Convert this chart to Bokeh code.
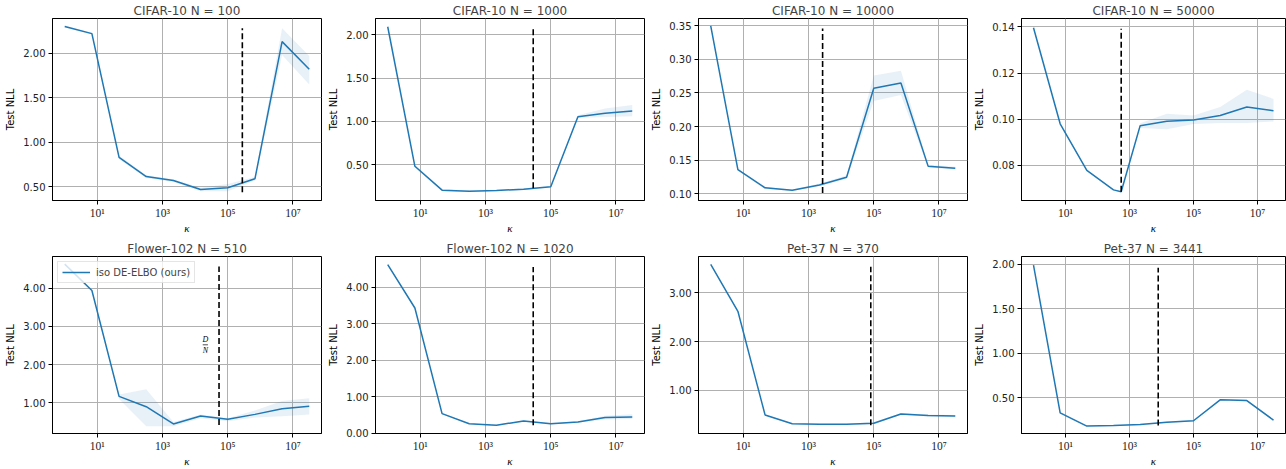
from bokeh.plotting import figure
from bokeh.layouts import column, row
from bokeh.models import Range1d, FixedTicker, NumeralTickFormatter, Legend, LegendItem
from bokeh.embed import file_html
from bokeh.resources import INLINE
from bokeh.core.properties import value

# ---------------- data ----------------
kappa = [1, 6.81, 46.4, 316, 2154, 14678, 1e5, 6.81e5, 4.64e6, 3.16e7]
kappa_p4 = [1, 6.81, 46.4, 316, 550, 2154, 14678, 1e5, 6.81e5, 4.64e6, 3.16e7]

titles = ["CIFAR-10 N = 100", "CIFAR-10 N = 1000", "CIFAR-10 N = 10000", "CIFAR-10 N = 50000",
          "Flower-102 N = 510", "Flower-102 N = 1020", "Pet-37 N = 370", "Pet-37 N = 3441"]

nll_c100 = [2.30, 2.22, 0.83, 0.615, 0.57, 0.47, 0.49, 0.59, 2.13, 1.82]
lo_c100 = [2.29, 2.21, 0.81, 0.60, 0.555, 0.45, 0.45, 0.57, 1.98, 1.65]
hi_c100 = [2.31, 2.23, 0.85, 0.63, 0.585, 0.49, 0.53, 0.61, 2.28, 1.97]

nll_c1000 = [2.09, 0.484, 0.209, 0.197, 0.205, 0.22, 0.248, 1.055, 1.095, 1.12]
lo_c1000 = [2.08, 0.47, 0.20, 0.19, 0.20, 0.21, 0.24, 1.04, 1.05, 1.06]
hi_c1000 = [2.10, 0.50, 0.22, 0.205, 0.21, 0.23, 0.255, 1.07, 1.15, 1.19]

nll_c10000 = [0.350, 0.1357, 0.1087, 0.105, 0.113, 0.1245, 0.257, 0.265, 0.141, 0.138]
lo_c10000 = [0.349, 0.134, 0.107, 0.104, 0.111, 0.122, 0.238, 0.247, 0.139, 0.136]
hi_c10000 = [0.351, 0.137, 0.110, 0.106, 0.115, 0.127, 0.276, 0.283, 0.143, 0.140]

nll_c50000 = [0.1396, 0.098, 0.0778, 0.0694, 0.0686, 0.0972, 0.0991, 0.0997, 0.1016, 0.1053, 0.1037]
lo_c50000 = [0.1394, 0.0978, 0.0776, 0.0692, 0.0684, 0.0962, 0.0957, 0.0979, 0.0984, 0.0984, 0.0990]
hi_c50000 = [0.1398, 0.0982, 0.0780, 0.0696, 0.0688, 0.0982, 0.1024, 0.1016, 0.1053, 0.1128, 0.1088]

nll_f510 = [4.63, 3.94, 1.17, 0.90, 0.45, 0.66, 0.57, 0.70, 0.85, 0.91]
lo_f510 = [4.62, 3.93, 1.10, 0.39, 0.39, 0.60, 0.52, 0.62, 0.65, 0.70]
hi_f510 = [4.64, 3.95, 1.22, 1.36, 0.50, 0.70, 0.60, 0.80, 1.05, 1.12]

nll_f1020 = [4.62, 3.43, 0.54, 0.26, 0.22, 0.34, 0.26, 0.31, 0.43, 0.45]
lo_f1020 = [4.61, 3.42, 0.52, 0.25, 0.21, 0.32, 0.25, 0.29, 0.38, 0.39]
hi_f1020 = [4.63, 3.44, 0.56, 0.27, 0.23, 0.36, 0.28, 0.33, 0.48, 0.52]

nll_p370 = [3.58, 2.62, 0.50, 0.32, 0.31, 0.31, 0.33, 0.52, 0.49, 0.48]
lo_p370 = [3.57, 2.61, 0.49, 0.31, 0.30, 0.30, 0.31, 0.50, 0.47, 0.46]
hi_p370 = [3.59, 2.63, 0.51, 0.33, 0.32, 0.32, 0.35, 0.54, 0.51, 0.50]

nll_p3441 = [1.99, 0.332, 0.183, 0.19, 0.20, 0.227, 0.243, 0.478, 0.47, 0.25]
lo_p3441 = [1.98, 0.325, 0.178, 0.185, 0.195, 0.22, 0.236, 0.47, 0.46, 0.24]
hi_p3441 = [2.00, 0.339, 0.188, 0.195, 0.205, 0.234, 0.25, 0.486, 0.48, 0.26]

# D/N (vertical dashed line) and its vertical extent
d_over_n = [2.8e5, 2.9e4, 2.7e3, 5.5e2, 5.4e4, 2.9e4, 8.1e4, 7.9e3]
dash_lo = [0.44, 0.23, 0.101, 0.0686, 0.42, 0.22, 0.29, 0.19]
dash_hi = [2.28, 2.07, 0.346, 0.1392, 4.57, 4.55, 3.53, 1.96]

y_ticks = [[0.5, 1.0, 1.5, 2.0], [0.5, 1.0, 1.5, 2.0], [0.10, 0.15, 0.20, 0.25, 0.30, 0.35],
           [0.08, 0.10, 0.12, 0.14], [1, 2, 3, 4], [0, 1, 2, 3, 4], [1, 2, 3], [0.5, 1.0, 1.5, 2.0]]
x_ticks = [10, 1e3, 1e5, 1e7]
x_tick_labels = {10: "10¹", 1000: "10³", 100000: "10⁵", 10000000: "10⁷"}

series = [
    (kappa, nll_c100, lo_c100, hi_c100),
    (kappa, nll_c1000, lo_c1000, hi_c1000),
    (kappa, nll_c10000, lo_c10000, hi_c10000),
    (kappa_p4, nll_c50000, lo_c50000, hi_c50000),
    (kappa, nll_f510, lo_f510, hi_f510),
    (kappa, nll_f1020, lo_f1020, hi_f1020),
    (kappa, nll_p370, lo_p370, hi_p370),
    (kappa, nll_p3441, lo_p3441, hi_p3441),
]

# axis ranges (layout)
y_ranges = [(0.346, 2.39), (0.09, 2.185), (0.0898, 0.361), (0.0648, 0.1436),
            (0.2, 4.83), (-0.005, 4.84), (0.12, 3.74), (0.10, 2.086)]
x_range = (10 ** -0.375, 10 ** 7.875)

BLUE = "#1f77b4"

def make(i):
    col = i % 4
    rw = i // 4
    w = 317 if col == 3 else 323
    h = 238 if rw == 0 else 231
    p = figure(width=w, height=h, x_axis_type="log",
               x_range=Range1d(*x_range), y_range=Range1d(*y_ranges[i]),
               output_backend="svg", toolbar_location=None,
               min_border_left=52, min_border_right=(1 if col == 3 else 2),
               min_border_top=15, min_border_bottom=(38 if rw == 0 else 34))
    p.title.text = titles[i]
    p.title.align = "center"
    p.title.text_font = "DejaVu Sans"
    p.title.text_font_size = "12px"
    p.title.text_font_style = "normal"
    p.title.standoff = 2
    p.title.offset = 0

    xs, ys, lo, hi = series[i]
    p.varea(x=xs, y1=lo, y2=hi, fill_color=BLUE, fill_alpha=0.1)
    r = p.line(xs, ys, line_color=BLUE, line_width=1.5)
    p.segment(x0=[d_over_n[i]], y0=[dash_lo[i]], x1=[d_over_n[i]], y1=[dash_hi[i]],
              line_color="black", line_width=1.6, line_dash="6 3")

    xa = p.xaxis[0]
    xa.ticker = FixedTicker(ticks=x_ticks)
    xa.major_label_overrides = x_tick_labels
    xa.major_label_text_font = "Liberation Serif"
    xa.major_label_text_font_size = "11.5px"
    xa.major_label_standoff = 2
    xa.axis_label = "κ"
    xa.axis_label_text_font = "Liberation Serif"
    xa.axis_label_text_font_style = "italic"
    xa.axis_label_text_font_size = "11px"
    xa.axis_label_standoff = 0

    ya = p.yaxis[0]
    ya.ticker = FixedTicker(ticks=y_ticks[i])
    ya.formatter = NumeralTickFormatter(format="0.00")
    ya.major_label_text_font = "DejaVu Sans"
    ya.major_label_text_font_size = "10px"
    ya.major_label_standoff = 3
    ya.axis_label = "Test NLL"
    ya.axis_label_text_font = "DejaVu Sans"
    ya.axis_label_text_font_style = "normal"
    ya.axis_label_text_font_size = "10px"
    ya.axis_label_standoff = 4

    for ax in (xa, ya):
        ax.axis_line_color = "black"
        ax.major_tick_line_color = "black"
        ax.major_tick_out = 4
        ax.major_tick_in = 0
        ax.minor_tick_line_color = None
        ax.major_label_text_color = "#222222"
        ax.axis_label_text_color = "black"

    p.xgrid.grid_line_color = "#b0b0b0"
    p.ygrid.grid_line_color = "#b0b0b0"
    p.xgrid.grid_line_width = 1
    p.ygrid.grid_line_width = 1
    p.outline_line_color = "black"
    p.outline_line_width = 1
    p.outline_line_alpha = 1
    p.background_fill_color = "white"

    if i == 4:
        leg = Legend(items=[LegendItem(label="iso DE-ELBO (ours)", renderers=[r])],
                     location="top_left")
        leg.label_text_font = "DejaVu Sans"
        leg.label_text_font_size = "10px"
        leg.margin = 5
        leg.padding = 4
        leg.spacing = 0
        leg.label_height = 12
        leg.glyph_height = 12
        leg.glyph_width = 28
        leg.label_standoff = 6
        leg.border_line_color = "#cccccc"
        leg.background_fill_alpha = 0.8
        p.add_layout(leg)
        # D/N annotation left of the dashed line
        xt = d_over_n[i] * 10 ** -0.42
        p.text(x=[xt], y=[2.66], text=["D"], text_font=value("Liberation Serif"),
               text_font_style="italic", text_font_size="8px", text_align="center",
               text_baseline="middle", text_color="black")
        p.text(x=[xt], y=[2.38], text=["N"], text_font=value("Liberation Serif"),
               text_font_style="italic", text_font_size="8px", text_align="center",
               text_baseline="middle", text_color="black")
        p.segment(x0=[xt * 10 ** -0.08], y0=[2.52], x1=[xt * 10 ** 0.08], y1=[2.52],
                  line_color="black", line_width=0.7)
    return p

figs = [make(i) for i in range(8)]
layout = column(row(*figs[:4], spacing=0), row(*figs[4:], spacing=0), spacing=0)

open("out.html", "w").write(file_html(layout, INLINE))
